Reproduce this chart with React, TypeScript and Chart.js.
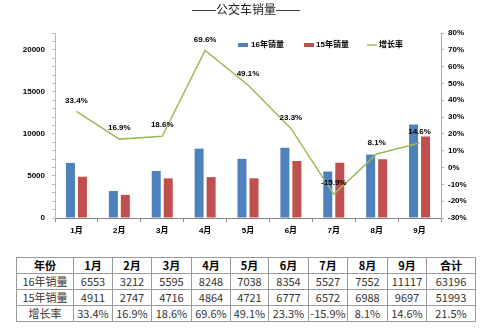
import React, { useEffect, useRef } from "react";
import { Chart, registerables } from "chart.js";

Chart.register(...registerables);

const months = ["1月", "2月", "3月", "4月", "5月", "6月", "7月", "8月", "9月"];
const sales16 = [6553, 3212, 5595, 8248, 7038, 8354, 5527, 7552, 11117];
const sales15 = [4911, 2747, 4716, 4864, 4721, 6777, 6572, 6988, 9697];
const growth = [33.4, 16.9, 18.6, 69.6, 49.1, 23.3, -15.9, 8.1, 14.6];
const totals = { s16: "63196", s15: "51993", growth: "21.5%" };
const seriesNames = ["16年销量", "15年销量", "增长率"];
const titleText = "——公交车销量——";
const tableHeader = ["年份", ...months, "合计"];

const FONT = "'Liberation Sans', 'Noto Sans CJK SC', sans-serif";
const BLUE = "#4f81bd";
const RED = "#c0504d";
const GREEN = "#9bbb59";

const overlayPlugin = {
  id: "overlay",
  afterDatasetsDraw(chart: any) {
    const ctx = chart.ctx;
    ctx.save();
    // line data labels
    const meta = chart.getDatasetMeta(2);
    ctx.font = `bold 8px ${FONT}`;
    ctx.fillStyle = "#000";
    ctx.textAlign = "center";
    ctx.textBaseline = "middle";
    meta.data.forEach((pt: any, i: number) => {
      ctx.fillText(growth[i].toFixed(1) + "%", pt.x, pt.y - 11);
    });
    // title
    ctx.font = `12px ${FONT}`;
    ctx.fillStyle = "#222";
    ctx.fillText(titleText, 246, 11);
    // legend
    ctx.font = `bold 8px ${FONT}`;
    ctx.textAlign = "left";
    const ly = 45;
    ctx.fillStyle = BLUE;
    ctx.fillRect(238, ly - 2, 10, 4);
    ctx.fillStyle = "#000";
    ctx.fillText(seriesNames[0], 251, ly);
    ctx.fillStyle = RED;
    ctx.fillRect(304, ly - 2, 10, 4);
    ctx.fillStyle = "#000";
    ctx.fillText(seriesNames[1], 316, ly);
    ctx.strokeStyle = GREEN;
    ctx.lineWidth = 1.5;
    ctx.beginPath();
    ctx.moveTo(367, ly);
    ctx.lineTo(377, ly);
    ctx.stroke();
    ctx.fillStyle = "#000";
    ctx.fillText(seriesNames[2], 379, ly);
    ctx.restore();
  },
};

export default function App() {
  const ref = useRef<HTMLCanvasElement>(null);

  useEffect(() => {
    const canvas = ref.current;
    if (!canvas) return;
    const chart = new Chart(canvas, {
      type: "bar",
      data: {
        labels: months,
        datasets: [
          {
            type: "bar",
            label: seriesNames[0],
            data: sales16,
            backgroundColor: BLUE,
            yAxisID: "y",
            order: 2,
            barPercentage: 0.75,
            categoryPercentage: 0.56,
          },
          {
            type: "bar",
            label: seriesNames[1],
            data: sales15,
            backgroundColor: RED,
            yAxisID: "y",
            order: 2,
            barPercentage: 0.75,
            categoryPercentage: 0.56,
          },
          {
            type: "line",
            label: seriesNames[2],
            data: growth,
            borderColor: GREEN,
            borderWidth: 1.5,
            pointRadius: 0,
            tension: 0,
            yAxisID: "y1",
            order: 0,
          },
        ] as any,
      },
      options: {
        animation: false,
        responsive: false,
        devicePixelRatio: 1,
        layout: { padding: { top: 33, left: 0, right: 0, bottom: 0 } },
        plugins: {
          legend: { display: false },
          title: { display: false },
          tooltip: { enabled: false },
        },
        scales: {
          x: {
            offset: true,
            grid: {
              display: true,
              drawOnChartArea: false,
              offset: true,
              tickLength: 4,
              color: "#888",
            },
            border: { display: true, color: "#888", width: 1 },
            ticks: {
              font: { family: FONT, size: 8, weight: "bold" },
              color: "#000",
              padding: 4,
            },
            afterFit(scale: any) {
              scale.height = 32;
            },
          },
          y: {
            position: "left",
            min: 0,
            max: 22000,
            grid: { drawOnChartArea: false, tickLength: 3, color: "#a6bfd9" },
            border: { display: true, color: "#a6bfd9", width: 1 },
            ticks: {
              stepSize: 1000,
              autoSkip: false,
              font: { family: FONT, size: 8, weight: "bold" },
              color: "#000",
              padding: 7,
              callback: (v: any) => (Number(v) % 5000 === 0 ? String(v) : ""),
            },
            afterFit(scale: any) {
              scale.width = 55;
            },
          },
          y1: {
            position: "right",
            min: -30,
            max: 80,
            grid: { drawOnChartArea: false, tickLength: 3, color: "#d99694" },
            border: { display: true, color: "#d99694", width: 1 },
            ticks: {
              stepSize: 10,
              font: { family: FONT, size: 8, weight: "bold" },
              color: "#000",
              padding: 4,
              callback: (v: any) => v + "%",
            },
            afterFit(scale: any) {
              scale.width = 59;
            },
          },
        },
      } as any,
      plugins: [overlayPlugin],
    });
    return () => chart.destroy();
  }, []);

  const colWidths = [57, 39, 39, 40, 39, 38, 40, 39, 40, 39, 49];
  const rows: string[][] = [
    [seriesNames[0], ...sales16.map(String), totals.s16],
    [seriesNames[1], ...sales15.map(String), totals.s15],
    [seriesNames[2], ...growth.map((g) => g.toFixed(1) + "%"), totals.growth],
  ];
  const cellStyle: React.CSSProperties = {
    border: "1px solid #9a9a9a",
    padding: 0,
    height: 15,
    textAlign: "center",
    fontFamily: "'Noto Sans CJK SC', 'Liberation Sans', sans-serif",
    fontSize: 11,
    lineHeight: "15px",
    whiteSpace: "nowrap",
    overflow: "hidden",
  };

  return (
    <div
      style={{
        position: "fixed",
        left: 0,
        top: 0,
        width: 500,
        height: 330,
        background: "#fff",
        overflow: "hidden",
      }}
    >
      <canvas ref={ref} width={500} height={250} style={{ position: "absolute", left: 0, top: 0, width: 500, height: 250 }} />
      <table
        style={{
          position: "absolute",
          left: 16,
          top: 257,
          width: 460,
          borderCollapse: "collapse",
          tableLayout: "fixed",
        }}
      >
        <colgroup>
          {colWidths.map((w, i) => (
            <col key={i} style={{ width: w }} />
          ))}
        </colgroup>
        <tbody>
          <tr>
            {tableHeader.map((h, i) => (
              <td key={i} style={{ ...cellStyle, fontWeight: "bold", color: "#000" }}>
                {h}
              </td>
            ))}
          </tr>
          {rows.map((r, ri) => (
            <tr key={ri}>
              {r.map((c, ci) => (
                <td key={ci} style={{ ...cellStyle, color: "#333" }}>
                  {c}
                </td>
              ))}
            </tr>
          ))}
        </tbody>
      </table>
    </div>
  );
}
